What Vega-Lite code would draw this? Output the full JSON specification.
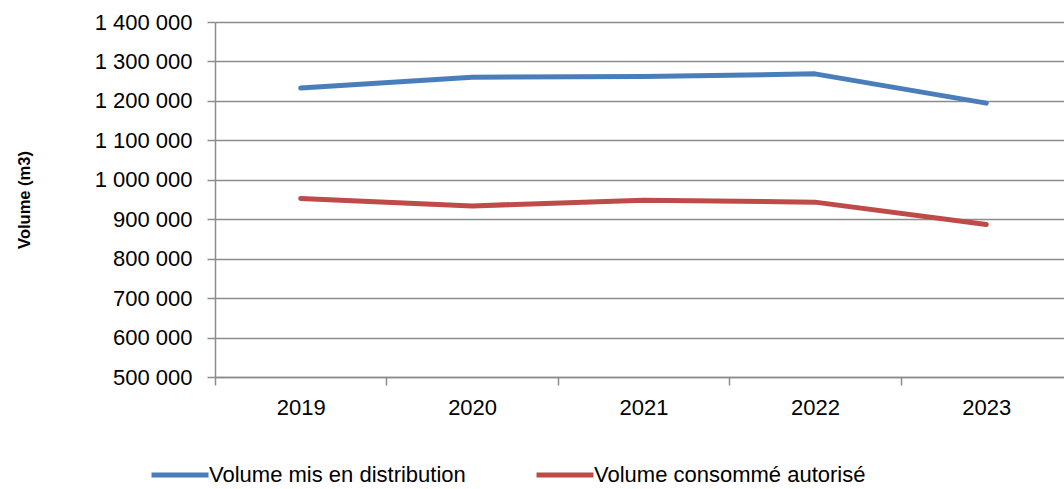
{
  "$schema": "https://vega.github.io/schema/vega-lite/v6.json",
  "autosize": {"type": "none"},
  "padding": {"left": 215, "top": 22, "right": 0, "bottom": 112},
  "width": 857,
  "height": 355,
  "background": "white",
  "config": {
    "font": "Liberation Sans",
    "view": {"stroke": null},
    "locale": {"number": {"decimal": ",", "thousands": " ", "grouping": [3], "currency": ["", " €"]}}
  },
  "data": {
    "values": [
      {"year": "2019", "series": "Volume mis en distribution", "volume": 1232500},
      {"year": "2020", "series": "Volume mis en distribution", "volume": 1260000},
      {"year": "2021", "series": "Volume mis en distribution", "volume": 1262000},
      {"year": "2022", "series": "Volume mis en distribution", "volume": 1268500},
      {"year": "2023", "series": "Volume mis en distribution", "volume": 1194300},
      {"year": "2019", "series": "Volume consommé autorisé", "volume": 952800},
      {"year": "2020", "series": "Volume consommé autorisé", "volume": 933800},
      {"year": "2021", "series": "Volume consommé autorisé", "volume": 948300},
      {"year": "2022", "series": "Volume consommé autorisé", "volume": 943300},
      {"year": "2023", "series": "Volume consommé autorisé", "volume": 886500}
    ]
  },
  "mark": {"type": "line", "strokeWidth": 5, "strokeCap": "round", "strokeJoin": "round"},
  "encoding": {
    "x": {
      "field": "year",
      "type": "ordinal",
      "scale": {"type": "band", "paddingInner": 0, "paddingOuter": 0},
      "axis": {
        "title": null,
        "labelAngle": 0,
        "tickBand": "extent",
        "grid": false,
        "domainColor": "#8c8c8c",
        "domainWidth": 1.5,
        "tickColor": "#8c8c8c",
        "tickWidth": 1.5,
        "tickSize": 8,
        "labelFontSize": 22,
        "labelColor": "#000000",
        "labelPadding": 12
      }
    },
    "y": {
      "field": "volume",
      "type": "quantitative",
      "scale": {"domain": [500000, 1400000], "nice": false, "zero": false},
      "axis": {
        "title": "Volume (m3)",
        "titleFontSize": 16.5,
        "titleFontWeight": "bold",
        "titleColor": "#000000",
        "titlePadding": 62,
        "values": [500000, 600000, 700000, 800000, 900000, 1000000, 1100000, 1200000, 1300000, 1400000],
        "format": ",d",
        "grid": true,
        "gridColor": "#8c8c8c",
        "gridWidth": 1.5,
        "domainColor": "#8c8c8c",
        "domainWidth": 1.5,
        "tickColor": "#8c8c8c",
        "tickWidth": 1.5,
        "tickSize": 8,
        "labelFontSize": 22,
        "labelColor": "#000000",
        "labelPadding": 15
      }
    },
    "color": {
      "field": "series",
      "type": "nominal",
      "scale": {
        "domain": ["Volume mis en distribution", "Volume consommé autorisé"],
        "range": ["#4A7EBB", "#BE4B48"]
      },
      "legend": {
        "title": null,
        "orient": "none",
        "legendX": -66,
        "legendY": 422,
        "padding": 0,
        "direction": "horizontal",
        "symbolType": "stroke",
        "symbolStrokeWidth": 5,
        "symbolSize": 3249,
        "labelFontSize": 22,
        "labelColor": "#000000",
        "labelOffset": -2,
        "columnPadding": 60,
        "labelLimit": 400
      }
    }
  }
}
